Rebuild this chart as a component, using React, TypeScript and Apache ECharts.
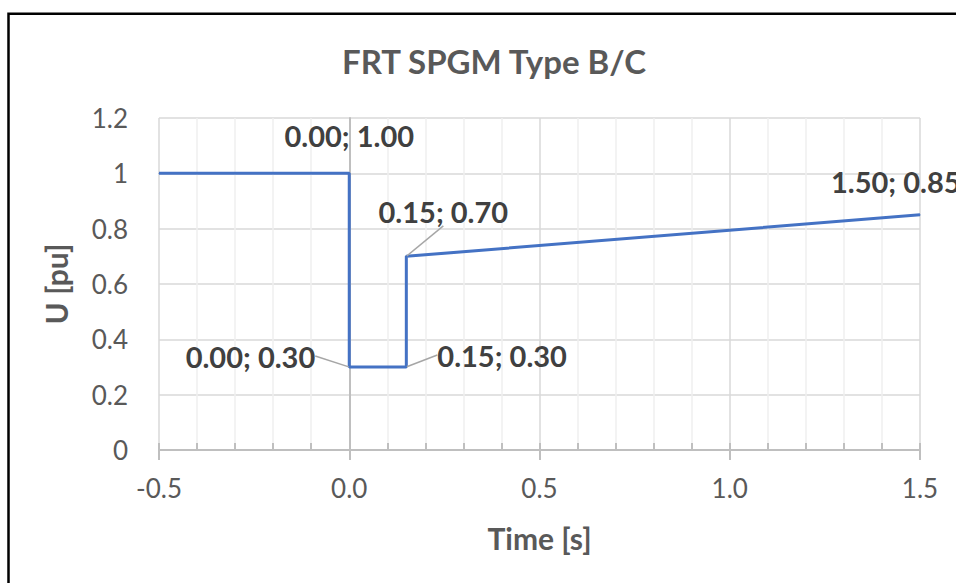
import React, { useEffect, useRef } from "react";
import * as echarts from "echarts";

// ---- data ----
const timeValues = [-0.5, 0, 0, 0.15, 0.15, 1.5];
const voltageValues = [1, 1, 0.3, 0.3, 0.7, 0.85];
const showLabel = [false, true, true, true, true, true];
const xTickLabels = ["-0.5", "0.0", "0.5", "1.0", "1.5"];
const yTickLabels = ["0", "0.2", "0.4", "0.6", "0.8", "1", "1.2"];

// ---- label placement (layout, not data) ----
const labelAlign = ["center", "center", "right", "left", "center", "left"];
const labelOffset: [number, number][] = [
  [0, 0],
  [0, -38],
  [-34, -11],
  [31, -12],
  [37, -45],
  [-89, -33],
];
const labelGuide = [false, false, true, true, true, false];

const FONT = "Lato, 'Open Sans', sans-serif";

export default function App() {
  const ref = useRef<HTMLDivElement>(null);
  useEffect(() => {
    if (!ref.current) return;
    const chart = echarts.init(ref.current, undefined, { renderer: "svg" });
    const data = timeValues.map((t, i) => ({
      value: [t, voltageValues[i]],
      label: {
        show: showLabel[i],
        align: labelAlign[i],
      },
      labelLine: {
        show: labelGuide[i],
        lineStyle: { color: "#a6a6a6", width: 1.5 },
      },
    }));
    chart.setOption({
      animation: false,
      backgroundColor: "#ffffff",
      textStyle: { fontFamily: FONT },
      title: {
        text: "FRT SPGM Type B/C",
        left: 489,
        textAlign: "center",
        top: 39,
        textStyle: {
          fontFamily: FONT,
          fontSize: 33,
          fontWeight: "bold",
          color: "#595959",
        },
      },
      grid: { left: 159, right: 36, top: 118, bottom: 133 },
      xAxis: [
        {
          type: "value",
          min: -0.5,
          max: 1.5,
          interval: 0.5,
          name: "Time [s]",
          nameLocation: "middle",
          nameGap: 73,
          nameTextStyle: {
            fontFamily: FONT,
            fontSize: 30,
            fontWeight: "bold",
            color: "#595959",
          },
          axisLine: { show: true, onZero: false, lineStyle: { color: "#bfbfbf", width: 2 } },
          axisTick: { show: true, inside: false, length: 10, lineStyle: { color: "#bfbfbf", width: 2 } },
          minorTick: { show: false, splitNumber: 5 },
          minorSplitLine: { show: true, lineStyle: { color: "#efefef", width: 1.5 } },
          splitLine: { show: true, lineStyle: { color: "#d9d9d9", width: 1.5 } },
          axisLabel: {
            margin: 25,
            fontFamily: FONT,
            fontSize: 26,
            color: "#595959",
            formatter: (v: number) => {
              const idx = Math.round((v + 0.5) / 0.5);
              return xTickLabels[idx] ?? "";
            },
          },
        },
        {
          type: "value",
          min: -0.5,
          max: 1.5,
          interval: 0.1,
          position: "bottom",
          axisLine: { show: false },
          axisTick: { show: true, inside: true, length: 7, lineStyle: { color: "#bfbfbf", width: 2 } },
          axisLabel: { show: false },
          splitLine: { show: false },
        },
      ],
      yAxis: {
        type: "value",
        min: 0,
        max: 1.2,
        interval: 0.2,
        name: "U [pu]",
        nameLocation: "middle",
        nameGap: 88,
        nameRotate: 90,
        nameTextStyle: {
          fontFamily: FONT,
          fontSize: 30,
          fontWeight: "bold",
          color: "#595959",
        },
        axisLine: { show: true, lineStyle: { color: "#bfbfbf", width: 2 } },
        axisTick: { show: false },
        splitLine: { show: true, lineStyle: { color: "#d9d9d9", width: 1.5 } },
        axisLabel: {
          margin: 31,
          fontFamily: FONT,
          fontSize: 26,
          color: "#595959",
          formatter: (v: number) => yTickLabels[Math.round(v / 0.2)] ?? "",
        },
      },
      graphic: [
        {
          type: "rect",
          shape: { x: 8.5, y: 13.8, width: 1000, height: 800 },
          style: { fill: "none", stroke: "#000000", lineWidth: 2.5 },
          silent: true,
          z: 100,
        },
      ],
      series: [
        {
          type: "line",
          data,
          showSymbol: true,
          symbol: "circle",
          symbolSize: 1,
          itemStyle: { color: "#4472c4" },
          lineStyle: { color: "#4472c4", width: 3 },
          clip: false,
          label: {
            show: true,
            position: "inside",
            fontFamily: FONT,
            fontSize: 29,
            fontWeight: "bold",
            color: "#404040",
            formatter: (p: any) =>
              `${Number(p.value[0]).toFixed(2)}; ${Number(p.value[1]).toFixed(2)}`,
          },
          labelLayout: (p: any) => {
            const o = labelOffset[p.dataIndex] || [0, 0];
            return { dx: o[0], dy: o[1] };
          },
          emphasis: { disabled: true },
        },
      ],
    });
    return () => chart.dispose();
  }, []);
  return (
    <div
      ref={ref}
      style={{ position: "absolute", left: 0, top: 0, width: 956, height: 583 }}
    />
  );
}
